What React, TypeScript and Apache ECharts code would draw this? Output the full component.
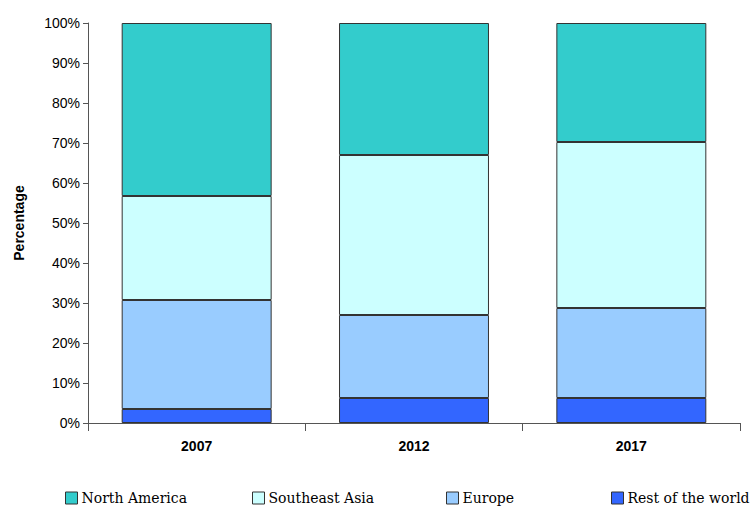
import React, { useEffect, useRef } from "react";
import * as echarts from "echarts";

const categories = ["2007", "2012", "2017"];
const restOfWorld = [3.5, 6.25, 6.25];
const europe = [27.25, 20.75, 22.5];
const southeastAsia = [26, 40, 41.5];
const northAmerica = [43.25, 33, 29.75];
const yTicks = [0, 10, 20, 30, 40, 50, 60, 70, 80, 90, 100];

const seriesNames = ["North America", "Southeast Asia", "Europe", "Rest of the world"];
const colors: Record<string, string> = {
  "North America": "#33CCCC",
  "Southeast Asia": "#CCFFFF",
  Europe: "#99CCFF",
  "Rest of the world": "#3366FF",
};
const legendLefts = [65, 252, 446, 611];

export default function App() {
  const ref = useRef<HTMLDivElement>(null);
  useEffect(() => {
    if (!ref.current) return;
    const chart = echarts.init(ref.current, undefined, { renderer: "svg" });
    const mk = (name: string, data: number[]) => ({
      name,
      type: "bar",
      stack: "total",
      data,
      barWidth: "69%",
      itemStyle: { color: colors[name], borderColor: "#333", borderWidth: 1 },
    });
    chart.setOption({
      animation: false,
      grid: { left: 88, right: 14, top: 23, bottom: 83 },
      legend: seriesNames.map((n, i) => ({
        data: [n],
        left: legendLefts[i],
        top: 491,
        itemWidth: 12,
        itemHeight: 12,
        itemGap: 0,
        padding: 0,
        icon: "rect",
        itemStyle: { borderColor: "#333", borderWidth: 1 },
        textStyle: { fontFamily: "DejaVu Serif", fontSize: 14, color: "#000", padding: [0, 0, 0, -1] },
      })),
      xAxis: {
        type: "category",
        data: categories,
        axisLine: { lineStyle: { color: "#555", width: 1 } },
        axisTick: { show: true, length: 8, lineStyle: { color: "#555" } },
        axisLabel: { fontFamily: "Liberation Sans", fontWeight: "bold", fontSize: 14, color: "#000", margin: 16 },
      },
      yAxis: {
        type: "value",
        min: yTicks[0],
        max: yTicks[yTicks.length - 1],
        interval: 10,
        name: "Percentage",
        nameLocation: "middle",
        nameGap: 62,
        nameTextStyle: { fontFamily: "Liberation Sans", fontWeight: "bold", fontSize: 14, color: "#000" },
        axisLine: { show: true, lineStyle: { color: "#555", width: 1 } },
        axisTick: { show: true, length: 5, lineStyle: { color: "#555" } },
        splitLine: { show: false },
        axisLabel: { formatter: "{value}%", fontFamily: "Liberation Sans", fontSize: 14, color: "#000", margin: 8 },
      },
      series: [
        mk("Rest of the world", restOfWorld),
        mk("Europe", europe),
        mk("Southeast Asia", southeastAsia),
        mk("North America", northAmerica),
      ],
    });
    return () => chart.dispose();
  }, []);
  return <div ref={ref} style={{ width: 754, height: 506, position: "absolute", left: 0, top: 0 }} />;
}
